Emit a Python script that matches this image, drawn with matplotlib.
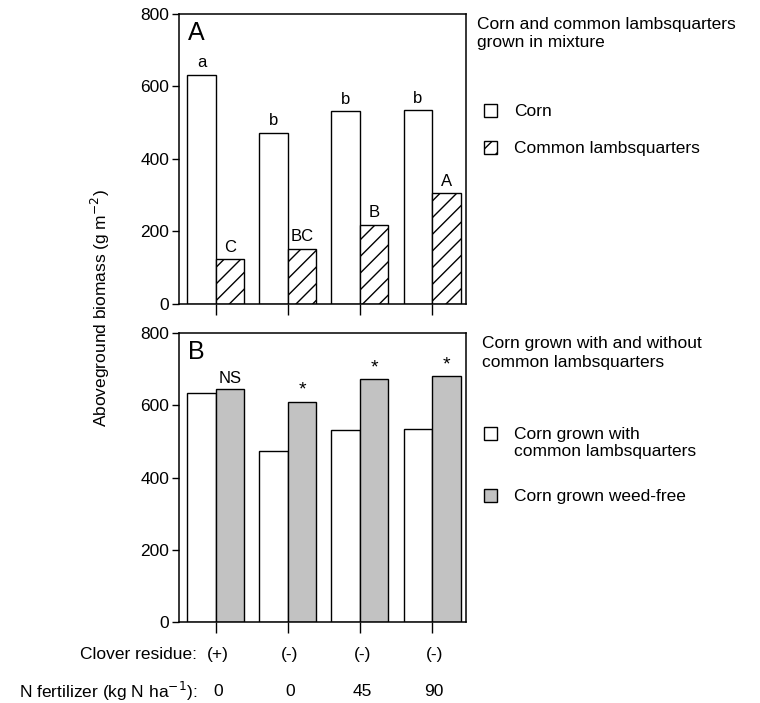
import matplotlib
matplotlib.use('Agg')
import matplotlib.pyplot as plt
import numpy as np

plt.rcParams['font.family'] = ['Liberation Sans', 'DejaVu Sans']
plt.rcParams['hatch.linewidth'] = 1.0

# data
groups = [0, 1, 2, 3]
clover = ['(+)', '(-)', '(-)', '(-)']
n_fert = ['0', '0', '45', '90']

corn_mix = [633, 473, 533, 535]
lambs_mix = [124, 153, 219, 307]
corn_letters = ['a', 'b', 'b', 'b']
lambs_letters = ['C', 'BC', 'B', 'A']

corn_with = [633, 473, 533, 535]
corn_free = [645, 610, 673, 680]
free_marks = ['NS', '*', '*', '*']

yticks = [0, 200, 400, 600, 800]

fig = plt.figure(figsize=(7.6, 7.03), dpi=100)
ax1 = fig.add_axes([0.2355, 0.5676, 0.3776, 0.4125])
ax2 = fig.add_axes([0.2355, 0.1152, 0.3776, 0.411])

x = np.array(groups)
w = 0.395
gray = '#c2c2c2'
fs = 12.5

# panel A
b1 = ax1.bar(x - w / 2, corn_mix, w, facecolor='white', edgecolor='black', linewidth=1.0, label='Corn')
b2 = ax1.bar(x + w / 2, lambs_mix, w, facecolor='white', edgecolor='black', linewidth=1.0,
             hatch='//', label='Common lambsquarters')
for xi, v, s in zip(x - w / 2, corn_mix, corn_letters):
    ax1.annotate(s, (xi, v), xytext=(0, 3), textcoords='offset points', ha='center', va='bottom', fontsize=12)
for xi, v, s in zip(x + w / 2, lambs_mix, lambs_letters):
    ax1.annotate(s, (xi, v), xytext=(0, 3), textcoords='offset points', ha='center', va='bottom', fontsize=12)
ax1.text(0.03, 0.975, 'A', transform=ax1.transAxes, ha='left', va='top', fontsize=18)
ax1.text(1.038, 0.99, 'Corn and common lambsquarters\ngrown in mixture', transform=ax1.transAxes,
         ha='left', va='top', fontsize=fs, linespacing=1.3)
ax1.legend(handles=[b1, b2], loc='upper left', bbox_to_anchor=(1.063, 0.69), frameon=False,
           fontsize=fs, handlelength=0.75, handleheight=0.75, handletextpad=1.0, labelspacing=1.25,
           borderpad=0, borderaxespad=0)

# panel B
c1 = ax2.bar(x - w / 2, corn_with, w, facecolor='white', edgecolor='black', linewidth=1.0,
             label='Corn grown with\ncommon lambsquarters')
c2 = ax2.bar(x + w / 2, corn_free, w, facecolor=gray, edgecolor='black', linewidth=1.0,
             label='Corn grown weed-free')
for xi, v, s in zip(x + w / 2, corn_free, free_marks):
    ax2.annotate(s, (xi, v), xytext=(0, 2), textcoords='offset points', ha='center', va='bottom',
                 fontsize=12 if s == 'NS' else 14)
ax2.text(0.03, 0.975, 'B', transform=ax2.transAxes, ha='left', va='top', fontsize=18)
ax2.text(1.055, 0.99, 'Corn grown with and without\ncommon lambsquarters', transform=ax2.transAxes,
         ha='left', va='top', fontsize=fs, linespacing=1.3)
leg2 = ax2.legend(handles=[c1, c2], loc='upper left', bbox_to_anchor=(1.063, 0.675), frameon=False,
                  fontsize=fs, handlelength=0.75, handleheight=0.75, handletextpad=1.0, labelspacing=1.7,
                  borderpad=0, borderaxespad=0)
# square beside the first line of the two-line entry
rows = leg2._legend_handle_box.get_children()[0].get_children()
rows[0].align = 'top'

for ax in (ax1, ax2):
    ax.set_xlim(-0.51, 3.47)
    ax.set_ylim(0, 800)
    ax.set_yticks(yticks)
    ax.set_xticks(groups)
    ax.set_xticklabels([])
    ax.tick_params(axis='y', direction='out', length=5, width=1, pad=2, labelsize=fs)
    ax.tick_params(axis='x', direction='out', length=8, width=1)
    for sp in ax.spines.values():
        sp.set_linewidth(1.1)

# treatment labels under panel B
tr = ax2.get_xaxis_transform()
ax2.text(-0.26, -0.114, 'Clover residue:', transform=tr, ha='right', va='center', fontsize=fs)
ax2.text(-0.26, -0.242, 'N fertilizer (kg N ha$^{-1}$):', transform=tr, ha='right', va='center', fontsize=fs)
for g, c, n in zip(groups, clover, n_fert):
    ax2.text(g + 0.03, -0.114, c, transform=tr, ha='center', va='center', fontsize=fs)
    ax2.text(g + 0.03, -0.242, n, transform=tr, ha='center', va='center', fontsize=fs)

fig.text(0.132, 0.562, 'Aboveground biomass (g m$^{-2}$)', rotation=90, ha='center', va='center', fontsize=fs)

fig.savefig('out.png', dpi=100)
